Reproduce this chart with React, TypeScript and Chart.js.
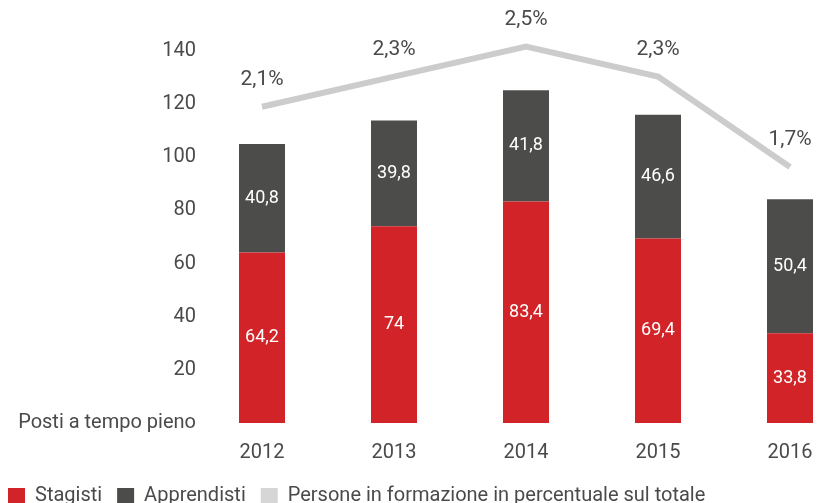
import React, { useEffect, useRef } from "react";
import { Chart, registerables } from "chart.js";

Chart.register(...registerables);

const years = ["2012", "2013", "2014", "2015", "2016"];
const stagisti = [64.2, 74, 83.4, 69.4, 33.8];
const apprendisti = [40.8, 39.8, 41.8, 46.6, 50.4];
const percentuale = [2.1, 2.3, 2.5, 2.3, 1.7];
const yTicks = [0, 20, 40, 60, 80, 100, 120, 140];
const zeroLabel = "Posti a tempo pieno";
const seriesNames = ["Stagisti", "Apprendisti", "Persone in formazione in percentuale sul totale"];

const RED = "#d22428";
const DARK = "#4c4c4a";
const LIGHT = "#cbcccb";
const TEXT = "#4a4a4a";
const FONT = "Roboto";

const fmt = (v: number) => String(v).replace(".", ",");

const labelPlugin = {
  id: "valueLabels",
  afterDatasetsDraw(chart: any) {
    const ctx = chart.ctx;
    ctx.save();
    chart.data.datasets.forEach((ds: any, i: number) => {
      const meta = chart.getDatasetMeta(i);
      if (ds.type === "line") {
        ctx.fillStyle = TEXT;
        ctx.font = `21px ${FONT}`;
        ctx.textAlign = "center";
        ctx.textBaseline = "middle";
        meta.data.forEach((el: any, j: number) => {
          ctx.fillText(fmt(ds.data[j]) + "%", el.x, el.y - 27);
        });
      } else {
        ctx.fillStyle = "#ffffff";
        ctx.font = `18px ${FONT}`;
        ctx.textAlign = "center";
        ctx.textBaseline = "middle";
        meta.data.forEach((el: any, j: number) => {
          ctx.fillText(fmt(ds.data[j]), el.x, (el.y + el.base) / 2);
        });
      }
    });
    ctx.restore();
  },
};

export default function App() {
  const ref = useRef<HTMLCanvasElement>(null);
  useEffect(() => {
    if (!ref.current) return;
    const chart = new Chart(ref.current, {
      type: "bar",
      data: {
        labels: years,
        datasets: [
          {
            type: "bar",
            label: seriesNames[0],
            data: stagisti,
            backgroundColor: RED,
            stack: "s",
            categoryPercentage: 1,
            barPercentage: 46 / 132,
            order: 2,
          },
          {
            type: "bar",
            label: seriesNames[1],
            data: apprendisti,
            backgroundColor: DARK,
            stack: "s",
            categoryPercentage: 1,
            barPercentage: 46 / 132,
            order: 2,
          },
          {
            type: "line",
            label: seriesNames[2],
            data: percentuale,
            borderColor: LIGHT,
            backgroundColor: LIGHT,
            borderWidth: 6,
            pointRadius: 0,
            tension: 0,
            yAxisID: "y2",
            order: 1,
            clip: false,
          } as any,
        ],
      },
      options: {
        responsive: false,
        animation: false,
        devicePixelRatio: 1,
        layout: { padding: { top: 51, right: 7, left: 0, bottom: 24 } },
        plugins: {
          tooltip: { enabled: false },
          legend: {
            position: "bottom",
            align: "start",
            labels: {
              color: TEXT,
              font: { family: FONT, size: 20 },
              boxWidth: 17,
              boxHeight: 16,
              padding: 15,
              generateLabels: (c: any) =>
                c.data.datasets.map((d: any, i: number) => ({
                  text: d.label,
                  fillStyle: i === 2 ? "#d6d6d6" : d.backgroundColor,
                  strokeStyle: "rgba(0,0,0,0)",
                  lineWidth: 0,
                  fontColor: TEXT,
                  hidden: false,
                  datasetIndex: i,
                })),
            },
          },
        },
        scales: {
          x: {
            stacked: true,
            offset: true,
            grid: { display: false },
            border: { display: false },
            ticks: { color: TEXT, font: { family: FONT, size: 20 }, padding: 10 },
            afterFit: (s: any) => {
              s.height = 48;
            },
          },
          y: {
            stacked: true,
            min: 0,
            max: 140,
            grid: { display: false, drawTicks: false },
            border: { display: false },
            afterBuildTicks: (s: any) => {
              s.ticks = yTicks.map((v) => ({ value: v }));
            },
            ticks: {
              color: TEXT,
              font: { family: FONT, size: 20 },
              padding: 0,
              callback: (v: any) => (v === 0 ? zeroLabel : String(v)),
            },
            afterFit: (s: any) => {
              s.width = 203;
            },
          },
          y2: {
            display: false,
            min: 0,
            max: 2.47,
          },
        },
      },
      plugins: [labelPlugin],
    });
    return () => chart.destroy();
  }, []);
  return (
    <div style={{ position: "fixed", left: 0, top: 0, width: 817, height: 503, overflow: "hidden", background: "#fff" }}>
      <div style={{ position: "absolute", left: -7, top: 0 }}>
        <canvas ref={ref} width={870} height={540} />
      </div>
    </div>
  );
}
